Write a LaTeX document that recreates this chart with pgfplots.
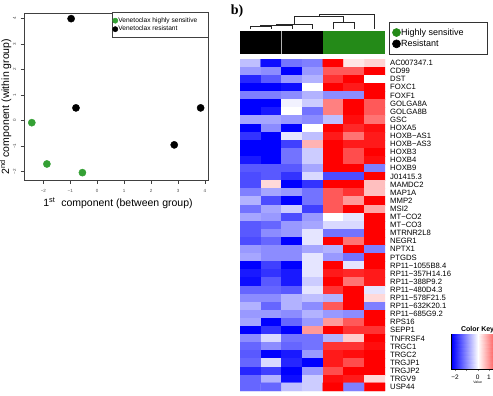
\documentclass[border=0pt]{standalone}
\usepackage{pgfplots}
\pgfplotsset{compat=1.18}
\usepackage{fontspec}
\setmainfont{Liberation Sans}
\newfontfamily\serifbold{Liberation Serif}
\definecolor{sensgreen}{RGB}{52,160,52}
\definecolor{bargreen}{RGB}{36,138,24}
\pgfplotsset{
  colormap={bwr}{rgb255=(0,0,255) rgb255=(255,255,255) rgb255=(255,0,0)},
}
\begin{document}
\begin{tikzpicture}
\useasboundingbox (0pt,0pt) rectangle (493pt,396pt);
\clip (0pt,0pt) rectangle (493pt,396pt);

% ---------------- a) discriminant scatter ----------------
\begin{axis}[
  at={(24pt,215.7pt)}, anchor=south west,
  scale only axis, width=184.7pt, height=167pt,
  xmin=-2.72, xmax=4.14, ymin=-2.34, ymax=4.21,
  xtick={-2,...,4}, ytick={-2,...,4},
  xticklabels={−2,−1,0,1,2,3,4},
  yticklabels={−2,−1,0,1,2,3,4},
  tick align=outside, xtick pos=bottom, ytick pos=left,
  major tick length=3.3pt,
  axis line style={black!75, line width=0.6pt},
  every tick/.style={black!75, line width=0.5pt},
  tick label style={font=\fontsize{4.5}{5}\selectfont, text=black!70, inner sep=0pt},
  xticklabel style={anchor=north},
  yticklabel style={rotate=90, anchor=south},
  xticklabel shift=5.8pt,
  yticklabel shift=4.3pt,
  xlabel={1\textsuperscript{st}\ \ component (between group)},
  ylabel={2\textsuperscript{nd}\ component (within group)},
  xlabel style={font=\fontsize{10.5}{12}\selectfont, at={(axis description cs:0.509,-0.138)}, anchor=center},
  ylabel style={font=\fontsize{10.5}{12}\selectfont, at={(axis description cs:-0.1,0.44)}, anchor=center},
  legend style={at={(1,1.006)}, anchor=north east, draw=black!75, line width=0.5pt,
    font=\fontsize{6.6}{7}\selectfont, inner xsep=0.7pt, inner ysep=4.5pt,
    nodes={inner sep=0.5pt}, row sep=1.2pt, cells={anchor=west}},
]
\addplot[only marks, mark=*, mark size=3.6pt, color=sensgreen, forget plot]
  coordinates {(-2.43,-0.08) (-1.87,-1.70) (-0.55,-2.04)};
\addplot[only marks, mark=*, mark size=3.6pt, color=black, forget plot]
  coordinates {(-0.97,4.00) (-0.79,0.50) (2.86,-0.95) (3.84,0.50)};
\addlegendimage{only marks, mark=*, mark size=2.6pt, sensgreen,
  legend image code/.code={\draw[mark repeat=2,mark phase=2] plot coordinates {(0pt,0pt) (2.8pt,0pt) (5.6pt,0pt)};}}
\addlegendentry{Venetoclax highly sensitive\hspace*{10pt}}
\addlegendimage{only marks, mark=*, mark size=2.6pt, black,
  legend image code/.code={\draw[mark repeat=2,mark phase=2] plot coordinates {(0pt,0pt) (2.8pt,0pt) (5.6pt,0pt)};}}
\addlegendentry{Venetoclax resistant}
\end{axis}

\node[font=\serifbold\bfseries\fontsize{14}{14}\selectfont] at (237pt,385pt) {b)};

% ---------------- b) column dendrogram ----------------
\begin{axis}[
  at={(240pt,366.7pt)}, anchor=south west,
  scale only axis, width=145pt, height=15.3pt,
  xmin=0.5, xmax=7.5, ymin=0, ymax=15.3,
  hide axis, clip=false,
]
\addplot[black!85, line width=0.5pt, no markers] coordinates {(1,0) (1,2.6) (2,2.6) (2,0)};
\addplot[black!85, line width=0.5pt, no markers] coordinates {(1.5,2.6) (1.5,4.3) (3,4.3) (3,0)};
\addplot[black!85, line width=0.5pt, no markers] coordinates {(2.25,4.3) (2.25,5.3) (4,5.3) (4,0)};
\addplot[black!85, line width=0.5pt, no markers] coordinates {(5,0) (5,6.6) (6,6.6) (6,0)};
\addplot[black!85, line width=0.5pt, no markers] coordinates {(3.125,5.3) (3.125,12.6) (5.5,12.6) (5.5,6.6)};
\addplot[black!85, line width=0.5pt, no markers] coordinates {(4.3125,12.6) (4.3125,15.3) (7,15.3) (7,0)};
\end{axis}

% ---------------- column side colours ----------------
\begin{axis}[
  at={(240pt,341.7pt)}, anchor=south west,
  scale only axis, width=145pt, height=23.6pt,
  xmin=0.5, xmax=7.5, ymin=0, ymax=1, hide axis,
]
\addplot[draw=none, fill=black] coordinates {(0.5,1) (4.5,1)} \closedcycle;
\addplot[draw=none, fill=bargreen] coordinates {(4.5,1) (7.5,1)} \closedcycle;
\addplot[gray!60, line width=0.4pt, no markers] coordinates {(2.5,0) (2.5,1)};
\end{axis}

% ---------------- heatmap ----------------
\begin{axis}[
  at={(240pt,5pt)}, anchor=south west,
  scale only axis, width=145pt, height=332pt,
  xmin=0.5, xmax=7.5, ymin=0.5, ymax=41.5, y dir=reverse,
  axis line style={draw=none}, xtick=\empty,
  ytick={1,...,41},
  yticklabels={AC007347.1, CD99, DST, FOXC1, FOXF1, GOLGA8A, GOLGA8B, GSC, HOXA5,
    HOXB−AS1, HOXB−AS3, HOXB3, HOXB4, HOXB9, J01415.3, MAMDC2, MAP1A, MMP2, MSI2,
    MT−CO2, MT−CO3, MTRNR2L8, NEGR1, NPTX1, PTGDS, RP11−1055B8.4, RP11−357H14.16,
    RP11−388P9.2, RP11−480D4.3, RP11−578F21.5, RP11−632K20.1, RP11−685G9.2, RPS16,
    SEPP1, TNFRSF4, TRGC1, TRGC2, TRGJP1, TRGJP2, TRGV9, USP44},
  yticklabel pos=right, major tick length=0pt,
  yticklabel style={anchor=west, inner sep=0pt, xshift=5pt, font=\fontsize{7.7}{8}\selectfont},
  colormap name=bwr, point meta min=-2, point meta max=2,
  legend style={at={(1.0297,1.1123)}, anchor=north west, draw=black!80, line width=0.6pt,
    font=\fontsize{9}{10}\selectfont, inner xsep=2.9pt, inner ysep=6pt,
    nodes={inner sep=0.5pt}, row sep=2.3pt, cells={anchor=west}},
]
\addplot[matrix plot*, mesh/cols=7, point meta=explicit, forget plot] coordinates {
(1,1)[-0.5] (2,1)[-1.9] (3,1)[-1.1] (4,1)[-1.0] (5,1)[2.0] (6,1)[0.2] (7,1)[0.35]
(1,2)[-0.8] (2,2)[-0.9] (3,2)[-2.0] (4,2)[-0.8] (5,2)[1.3] (6,2)[1.3] (7,2)[2.0]
(1,3)[-1.7] (2,3)[-1.3] (3,3)[-0.8] (4,3)[-0.6] (5,3)[1.6] (6,3)[2.0] (7,3)[0.0]
(1,4)[-2.0] (2,4)[-2.0] (3,4)[-1.9] (4,4)[0.0] (5,4)[2.0] (6,4)[1.8] (7,4)[2.0]
(1,5)[-1.0] (2,5)[-1.0] (3,5)[-0.9] (4,5)[-0.6] (5,5)[-0.9] (6,5)[-0.9] (7,5)[2.0]
(1,6)[-2.0] (2,6)[-2.0] (3,6)[-0.1] (4,6)[-0.4] (5,6)[1.0] (6,6)[2.0] (7,6)[1.3]
(1,7)[-2.0] (2,7)[-1.8] (3,7)[0.0] (4,7)[-1.1] (5,7)[1.0] (6,7)[2.0] (7,7)[1.3]
(1,8)[-0.7] (2,8)[-0.7] (3,8)[-0.8] (4,8)[-0.9] (5,8)[-0.5] (6,8)[1.9] (7,8)[1.1]
(1,9)[-2.0] (2,9)[-0.9] (3,9)[-2.0] (4,9)[0.0] (5,9)[2.0] (6,9)[1.7] (7,9)[1.9]
(1,10)[-1.6] (2,10)[-2.0] (3,10)[-0.2] (4,10)[-0.5] (5,10)[1.8] (6,10)[1.1] (7,10)[1.8]
(1,11)[-2.0] (2,11)[-2.0] (3,11)[-1.5] (4,11)[0.6] (5,11)[2.0] (6,11)[1.8] (7,11)[1.8]
(1,12)[-2.0] (2,12)[-2.0] (3,12)[-1.1] (4,12)[-0.4] (5,12)[2.0] (6,12)[1.4] (7,12)[2.0]
(1,13)[-1.8] (2,13)[-2.0] (3,13)[-1.1] (4,13)[-0.4] (5,13)[2.0] (6,13)[1.4] (7,13)[1.9]
(1,14)[-1.3] (2,14)[-1.3] (3,14)[-1.3] (4,14)[-0.7] (5,14)[2.0] (6,14)[2.0] (7,14)[-1.0]
(1,15)[-1.4] (2,15)[-1.3] (3,15)[-1.6] (4,15)[-0.3] (5,15)[-1.4] (6,15)[-1.4] (7,15)[2.0]
(1,16)[-1.4] (2,16)[0.3] (3,16)[-2.0] (4,16)[-1.6] (5,16)[2.0] (6,16)[2.0] (7,16)[0.5]
(1,17)[-1.0] (2,17)[-0.7] (3,17)[-0.8] (4,17)[-1.1] (5,17)[1.3] (6,17)[1.6] (7,17)[0.5]
(1,18)[-0.6] (2,18)[-1.4] (3,18)[-2.0] (4,18)[-1.1] (5,18)[1.3] (6,18)[0.8] (7,18)[2.0]
(1,19)[-1.1] (2,19)[-0.7] (3,19)[-0.4] (4,19)[-1.5] (5,19)[1.3] (6,19)[2.0] (7,19)[0.7]
(1,20)[-0.7] (2,20)[-0.8] (3,20)[-1.4] (4,20)[-0.8] (5,20)[0.0] (6,20)[-0.2] (7,20)[2.0]
(1,21)[-1.3] (2,21)[-1.2] (3,21)[-0.8] (4,21)[-0.7] (5,21)[-0.3] (6,21)[-0.3] (7,21)[2.0]
(1,22)[-1.3] (2,22)[-0.9] (3,22)[-0.8] (4,22)[-0.2] (5,22)[-1.1] (6,22)[-1.1] (7,22)[2.0]
(1,23)[-1.4] (2,23)[-1.2] (3,23)[-2.0] (4,23)[-0.2] (5,23)[2.0] (6,23)[1.1] (7,23)[2.0]
(1,24)[-0.8] (2,24)[-0.9] (3,24)[-0.9] (4,24)[-0.7] (5,24)[-0.6] (6,24)[2.0] (7,24)[-1.0]
(1,25)[-0.7] (2,25)[-0.9] (3,25)[-0.9] (4,25)[-0.2] (5,25)[-0.8] (6,25)[-1.1] (7,25)[2.0]
(1,26)[-2.0] (2,26)[-1.5] (3,26)[-2.0] (4,26)[-0.2] (5,26)[2.0] (6,26)[-0.2] (7,26)[2.0]
(1,27)[-1.8] (2,27)[-1.6] (3,27)[-1.8] (4,27)[-0.2] (5,27)[1.8] (6,27)[1.7] (7,27)[1.8]
(1,28)[-1.9] (2,28)[-1.3] (3,28)[-1.8] (4,28)[-0.4] (5,28)[2.0] (6,28)[1.1] (7,28)[1.8]
(1,29)[-1.2] (2,29)[-1.2] (3,29)[-1.3] (4,29)[-0.2] (5,29)[1.6] (6,29)[2.0] (7,29)[-0.2]
(1,30)[-0.9] (2,30)[-0.9] (3,30)[-0.6] (4,30)[-0.5] (5,30)[-0.6] (6,30)[2.0] (7,30)[0.3]
(1,31)[-0.6] (2,31)[-1.2] (3,31)[-0.6] (4,31)[-0.9] (5,31)[1.3] (6,31)[2.0] (7,31)[-1.0]
(1,32)[-0.8] (2,32)[-0.8] (3,32)[-0.9] (4,32)[-0.6] (5,32)[-0.8] (6,32)[-0.9] (7,32)[2.0]
(1,33)[-0.7] (2,33)[-2.0] (3,33)[-1.2] (4,33)[-0.8] (5,33)[0.8] (6,33)[1.3] (7,33)[2.0]
(1,34)[-2.0] (2,34)[-1.6] (3,34)[-2.0] (4,34)[0.8] (5,34)[2.0] (6,34)[1.6] (7,34)[1.6]
(1,35)[-0.9] (2,35)[-0.3] (3,35)[-1.1] (4,35)[-1.1] (5,35)[-0.6] (6,35)[0.4] (7,35)[2.0]
(1,36)[-1.2] (2,36)[-0.9] (3,36)[-1.2] (4,36)[-1.1] (5,36)[1.6] (6,36)[1.6] (7,36)[1.9]
(1,37)[-1.3] (2,37)[-2.0] (3,37)[-1.8] (4,37)[-0.8] (5,37)[1.8] (6,37)[1.9] (7,37)[2.0]
(1,38)[-1.2] (2,38)[-0.3] (3,38)[-1.7] (4,38)[-2.0] (5,38)[1.8] (6,38)[1.4] (7,38)[2.0]
(1,39)[-1.7] (2,39)[-1.5] (3,39)[-2.0] (4,39)[-0.8] (5,39)[1.4] (6,39)[2.0] (7,39)[2.0]
(1,40)[-1.2] (2,40)[-0.6] (3,40)[-1.9] (4,40)[-0.4] (5,40)[1.9] (6,40)[1.8] (7,40)[0.3]
(1,41)[-1.2] (2,41)[-1.2] (3,41)[-0.5] (4,41)[-0.4] (5,41)[2.0] (6,41)[-1.0] (7,41)[2.0]
};
\addlegendimage{only marks, mark=*, mark size=4pt, bargreen,
  legend image code/.code={\draw[mark repeat=2,mark phase=2] plot coordinates {(0pt,0pt) (4pt,0pt) (8pt,0pt)};}}
\addlegendentry{Highly sensitive\hspace*{20pt}}
\addlegendimage{only marks, mark=*, mark size=4pt, black,
  legend image code/.code={\draw[mark repeat=2,mark phase=2] plot coordinates {(0pt,0pt) (4pt,0pt) (8pt,0pt)};}}
\addlegendentry{Resistant}
\end{axis}

% ---------------- colour key ----------------
\begin{axis}[
  at={(451.7pt,27pt)}, anchor=south west,
  scale only axis, width=51.8pt, height=35pt,
  xmin=-2.29, xmax=2.29, ymin=0, ymax=1,
  ytick=\empty, xtick={-2,...,2}, xticklabels={−2,,0,1,},
  xtick pos=bottom, tick align=outside, major tick length=2.5pt,
  axis line style={line width=0.5pt},
  tick label style={font=\fontsize{6.5}{7}\selectfont, inner sep=0pt},
  xticklabel style={anchor=north}, xticklabel shift=3pt,
  colormap name=bwr, point meta min=-2.29, point meta max=2.29,
  clip=false,
  xlabel={Value},
  xlabel style={font=\fontsize{3.5}{4}\selectfont, inner sep=0pt, at={(axis description cs:0.5,-0.38)}, anchor=center},
]
\addplot[surf, shader=interp, point meta=x] coordinates {
(-2.29,0) (0,0) (2.29,0)

(-2.29,1) (0,1) (2.29,1)
};
\node[font=\bfseries\fontsize{7}{8}\selectfont, inner sep=0pt, anchor=base]
  at (axis description cs:0.5,1.07) {Color Key};
\end{axis}
\end{tikzpicture}
\end{document}
